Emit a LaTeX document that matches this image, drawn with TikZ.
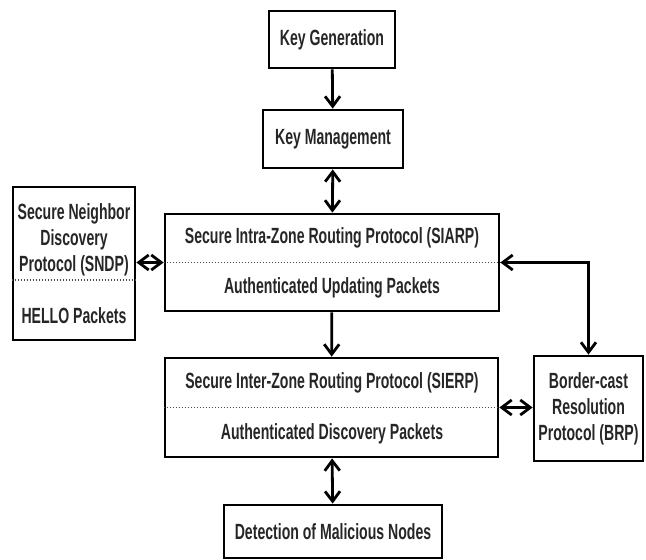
\documentclass[tikz,border=0pt]{standalone}
\usepackage{fontspec}
\setmainfont[FakeStretch=0.64]{Liberation Sans}
\usetikzlibrary{arrows.meta,positioning}
\tikzset{
    %Define standard arrow tip
    >={Straight Barb[length=10pt,width=15pt]},
    %Define style for boxes
    blok/.style={
           rectangle,
           draw=black, line width=2.8pt,
           inner sep=0pt},
    %Define style for texts
    tekst/.style={
           font=\bfseries\fontsize{22}{26}\selectfont,
           text=black!85,
           align=center,
           inner sep=0pt},
    % Define arrow style
    pil/.style={
           line width=2.8pt},
    % Define separator style
    skil/.style={
           dash pattern=on 1.6pt off 1.4pt, line width=1.3pt, black!70}
}
\begin{document}
\begin{tikzpicture}[x=1pt,y=-1pt]
\useasboundingbox (0,0) rectangle (646,560);
% boxes
\node[blok, tekst, minimum width=126pt, minimum height=57pt] (keygen) at (332,39.5) {Key Generation};
\node[blok, tekst, minimum width=140pt, minimum height=58pt] (keymgmt) at (333,139) {Key Management};
\node[blok, minimum width=334pt, minimum height=97pt] (siarp) at (332,262.5) {};
\node[blok, minimum width=122pt, minimum height=153pt] (sndp) at (74,263.5) {};
\node[blok, minimum width=333pt, minimum height=99pt] (sierp) at (331.5,407.5) {};
\node[blok, tekst, minimum width=109pt, minimum height=105pt] (brp) at (588.5,408.5) {Border-cast\\Resolution\\Protocol (BRP)};
\node[blok, tekst, minimum width=218pt, minimum height=53pt] (detect) at (333,531.5) {Detection of Malicious Nodes};
% texts in the split boxes
\node[tekst] (siarptop) at (332,238) {Secure Intra-Zone Routing Protocol (SIARP)};
\node[tekst] (siarpbot) at (332,288) {Authenticated Updating Packets};
\node[tekst] (sierptop) at (332,383) {Secure Inter-Zone Routing Protocol (SIERP)};
\node[tekst] (sierpbot) at (332,434) {Authenticated Discovery Packets};
\node[tekst] (sndptop) at (74,239.5) {Secure Neighbor\\Discovery\\Protocol (SNDP)};
\node[tekst] (sndpbot) at (74,316) {HELLO Packets};
% separators
\draw[skil] (siarp.west) -- (siarp.east);
\draw[skil] (sierp.west) -- (sierp.east);
\draw[skil] ([yshift=-16.5pt]sndp.west) -- ([yshift=-16.5pt]sndp.east);
% connectors
\draw[pil, ->] (keygen) -- (keymgmt);
\draw[pil, <->] (keymgmt) -- (siarp);
\draw[pil, <->] (sndp.east |- siarp.west) -- (siarp.west);
\draw[pil, ->] (siarp) -- (sierp);
\draw[pil, <->] (sierp.east) -- (sierp.east -| brp.west);
\draw[pil, <->] (siarp.east) -| (brp.north);
\draw[pil, <->] (sierp) -- (detect);
\end{tikzpicture}
\end{document}
